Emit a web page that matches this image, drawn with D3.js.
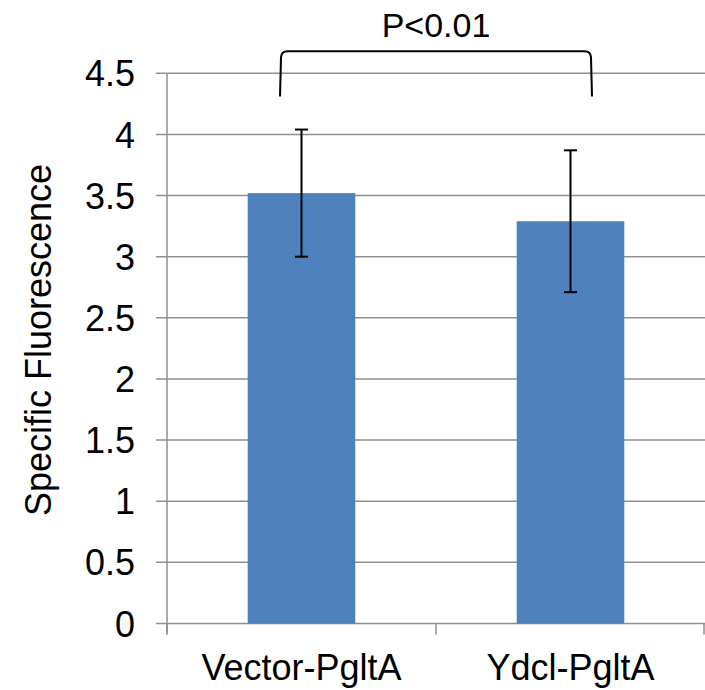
<!DOCTYPE html>
<html>
<head>
<meta charset="utf-8">
<script src="https://cdn.jsdelivr.net/npm/d3@7/dist/d3.min.js"></script>
<style>
  html, body { margin: 0; padding: 0; background: #fff; }
  svg { display: block; }
  text { font-family: "Liberation Sans", Arial, sans-serif; fill: #000; }
</style>
</head>
<body>
<svg id="chart" width="705" height="690"></svg>
<script>
const categories = ["Vector-PgltA", "Ydcl-PgltA"];
const values = [3.52, 3.29];
const errors = [0.52, 0.58];
const yTicks = [0, 0.5, 1, 1.5, 2, 2.5, 3, 3.5, 4, 4.5];
const yTickLabels = ["0", "0.5", "1", "1.5", "2", "2.5", "3", "3.5", "4", "4.5"];
const yLabel = "Specific Fluorescence";
const sigLabel = "P<0.01";
const bracketLevels = [4.31, 4.68];

const svg = d3.select("#chart");
const m = { left: 167, top: 73.3, right: 0, bottom: 690 - 623.5 };
const W = 705, H = 690;
const iw = W - m.left - m.right, ih = H - m.top - m.bottom;

const x = d3.scaleBand().domain(categories).range([m.left, m.left + iw]).paddingInner(0.6).paddingOuter(0.3);
const x0 = d3.scaleBand().domain(categories).range([m.left, m.left + iw]).padding(0);
const y = d3.scaleLinear().domain([0, 4.5]).range([m.top + ih, m.top]);

const gridColor = "#8f8f8f";

// horizontal gridlines (extending left as ticks)
svg.append("g").selectAll("line").data(yTicks).join("line")
  .attr("x1", m.left - 11).attr("x2", m.left + iw)
  .attr("y1", d => y(d)).attr("y2", d => y(d))
  .attr("stroke", gridColor).attr("stroke-width", 1.5);

// y axis
const yAxis = d3.axisLeft(y).tickValues(yTicks).tickFormat((d, i) => yTickLabels[i])
  .tickSize(11).tickPadding(21).tickSizeOuter(0);
const gy = svg.append("g").attr("transform", `translate(${m.left},0)`).call(yAxis);
gy.select(".domain").remove();
gy.selectAll(".tick line").remove();
gy.selectAll("text").style("font-size", "36px").attr("font-family", "Liberation Sans, Arial, sans-serif").attr("fill", "#000").attr("dy", "0.35em");
svg.append("line").attr("x1", m.left).attr("x2", m.left).attr("y1", y(4.5)).attr("y2", y(0) + 11)
  .attr("stroke", gridColor).attr("stroke-width", 1.5);

// x axis ticks at band boundaries
const boundaries = [m.left].concat(categories.map(c => x0(c) + x0.bandwidth()));
svg.append("g").selectAll("line").data(boundaries).join("line")
  .attr("x1", d => Math.min(d, W - 1)).attr("x2", d => Math.min(d, W - 1))
  .attr("y1", y(0)).attr("y2", y(0) + 11)
  .attr("stroke", gridColor).attr("stroke-width", 1.5);

// bars
svg.append("g").selectAll("rect").data(values).join("rect")
  .attr("x", (d, i) => x(categories[i]))
  .attr("width", x.bandwidth())
  .attr("y", d => y(d))
  .attr("height", d => y(0) - y(d))
  .attr("fill", "#4f81bd");

// error bars
const eb = svg.append("g").attr("stroke", "#000").attr("stroke-width", 2);
values.forEach((v, i) => {
  const cx = x(categories[i]) + x.bandwidth() / 2;
  eb.append("line").attr("x1", cx).attr("x2", cx).attr("y1", y(v + errors[i])).attr("y2", y(v - errors[i]));
  eb.append("line").attr("x1", cx - 6.5).attr("x2", cx + 6.5).attr("y1", y(v + errors[i])).attr("y2", y(v + errors[i]));
  eb.append("line").attr("x1", cx - 6.5).attr("x2", cx + 6.5).attr("y1", y(v - errors[i])).attr("y2", y(v - errors[i]));
});

// x labels
svg.append("g").selectAll("text").data(categories).join("text")
  .attr("x", d => x(d) + x.bandwidth() / 2)
  .attr("y", 680)
  .attr("text-anchor", "middle")
  .style("font-size", "36px")
  .text(d => d);

// y label
svg.append("text")
  .attr("transform", `translate(51,340) rotate(-90)`)
  .attr("text-anchor", "middle")
  .style("font-size", "36px")
  .text(yLabel);

// significance bracket
const bx1 = x(categories[0]) + x.bandwidth() / 2 - 20;
const bx2 = x(categories[1]) + x.bandwidth() / 2 + 20;
const by1 = y(bracketLevels[0]), by2 = y(bracketLevels[1]);
const r = 6;
const p = d3.path();
p.moveTo(bx1 - 1.5, by1);
p.lineTo(bx1 - 0.5, by2 + r);
p.quadraticCurveTo(bx1, by2, bx1 + r, by2);
p.lineTo(bx2 - r, by2);
p.quadraticCurveTo(bx2, by2, bx2 + 0.5, by2 + r);
p.lineTo(bx2 + 1.5, by1);
svg.append("path").attr("d", p.toString()).attr("fill", "none").attr("stroke", "#000").attr("stroke-width", 2);

svg.append("text")
  .attr("x", (bx1 + bx2) / 2)
  .attr("y", 36.5)
  .attr("text-anchor", "middle")
  .style("font-size", "34px")
  .text(sigLabel);
</script>
</body>
</html>
